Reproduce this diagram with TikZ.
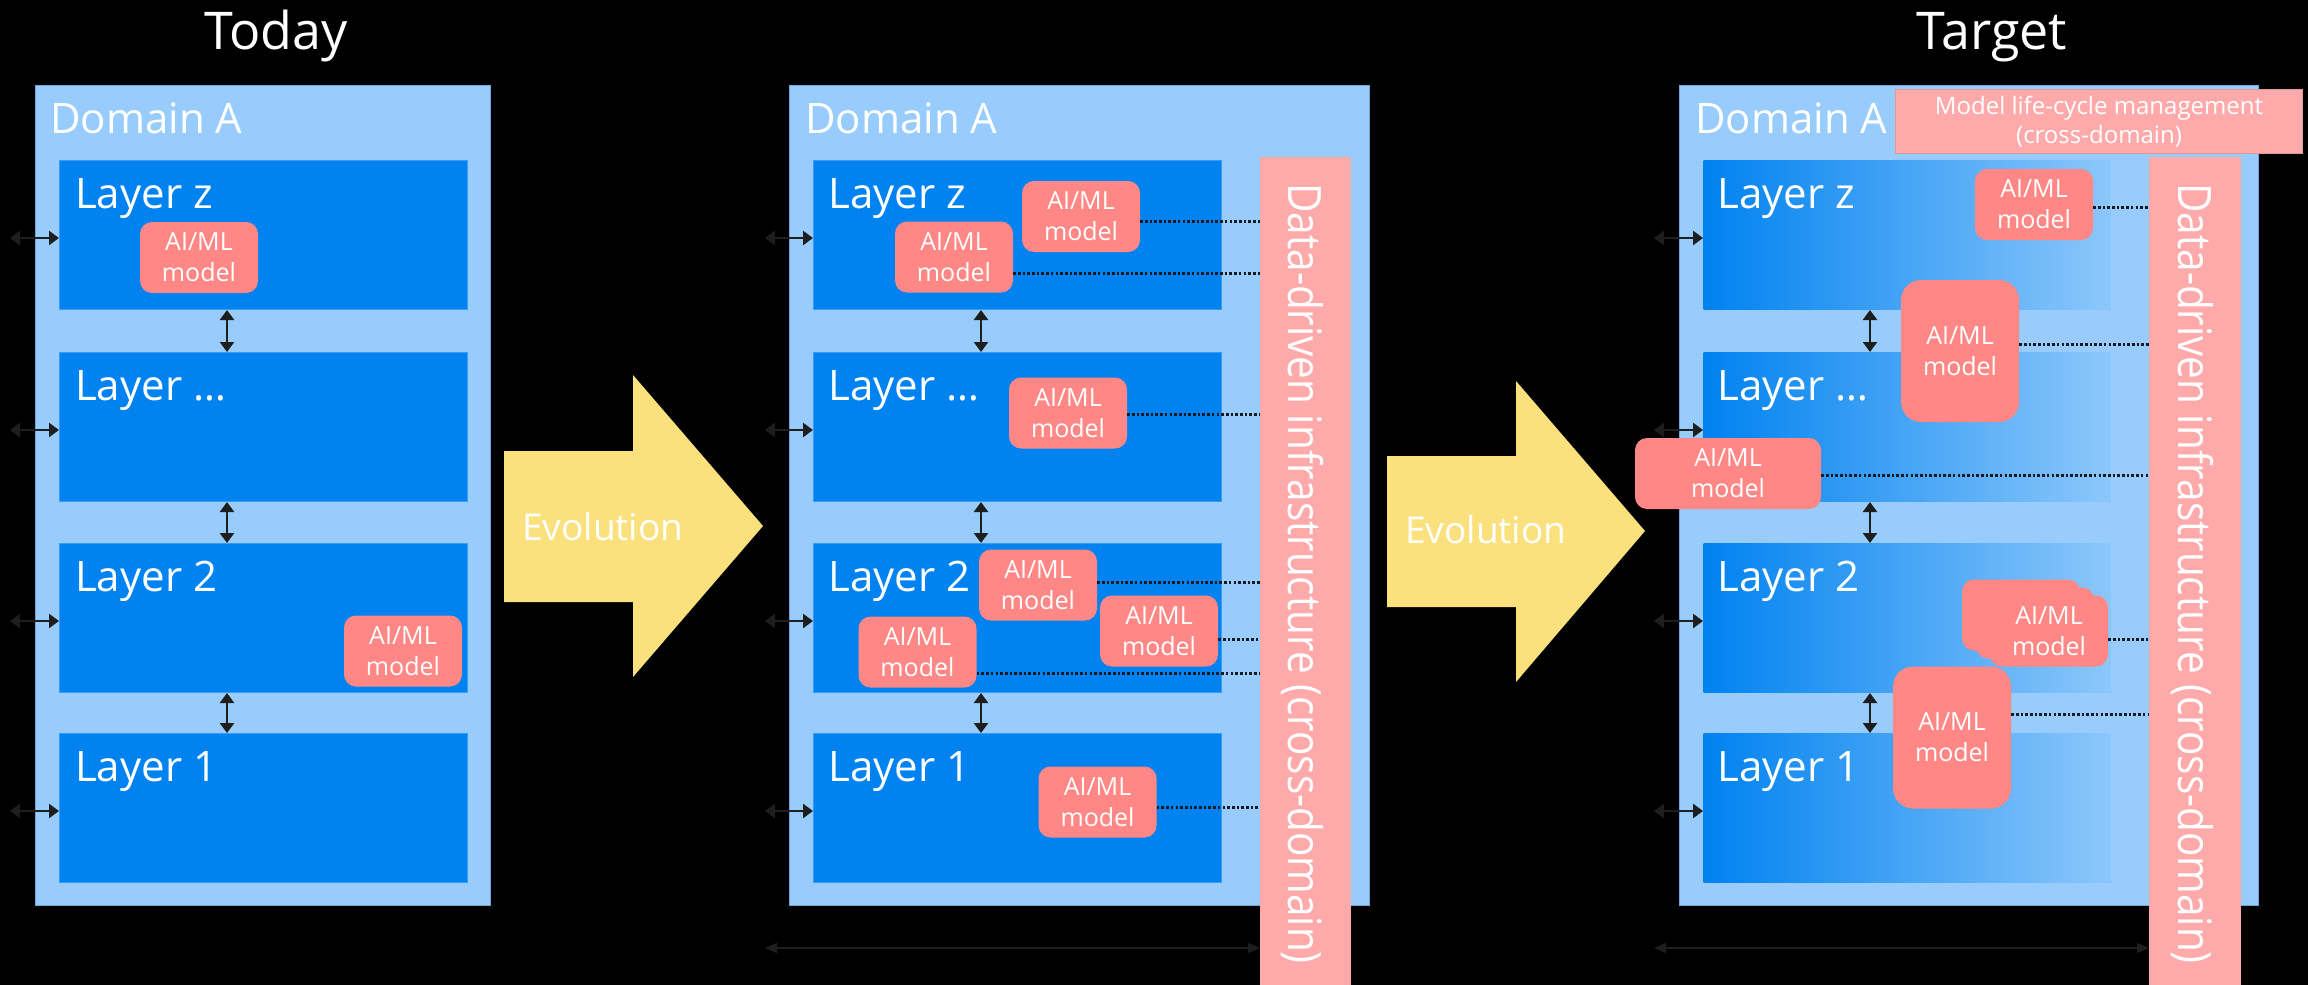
\documentclass[tikz,border=0pt]{standalone}
\usepackage{fontspec}
\usepackage{graphicx}
\setmainfont{Open Sans}
\usetikzlibrary{arrows.meta,calc}

\definecolor{domainblue}{HTML}{97CCFC}
\definecolor{domainedge}{HTML}{6FA6DA}
\definecolor{layerblue}{HTML}{0082F0}
\definecolor{layeredge}{HTML}{3A9CF2}
\definecolor{layerfade}{HTML}{8CC7FA}
\definecolor{modelred}{HTML}{FF8886}
\definecolor{infrapink}{HTML}{FFAAAA}
\definecolor{infraedge}{HTML}{E39797}
\definecolor{evoyellow}{HTML}{FAE17D}
\definecolor{arrowdark}{HTML}{1E1E1E}
\definecolor{dotdark}{HTML}{141A22}

\tikzset{
  title/.style={anchor=base, text=white, inner sep=0pt, font=\fontsize{52}{60}\selectfont},
  domainbox/.style={fill=domainblue, draw=domainedge, line width=1.2pt, anchor=north west,
    minimum height=820pt, inner sep=0pt},
  domaintext/.style={anchor=base west, text=white, inner sep=0pt, font=\fontsize{42}{48}\selectfont},
  layerbox/.style={fill=layerblue, draw=layeredge, line width=1pt, anchor=north west,
    minimum width=408pt, minimum height=149pt, inner sep=0pt},
  fadedlayer/.style={layerbox, draw=none, minimum width=407pt, left color=layerblue, right color=layerfade},
  layertext/.style={anchor=base west, text=white, inner sep=0pt, font=\fontsize{42}{48}\selectfont},
  model/.style={fill=modelred, draw=none, rounded corners=12pt, minimum width=118pt,
    minimum height=71pt, inner sep=0pt, text=white, align=center,
    font=\fontsize{25}{31}\selectfont},
  bigmodel/.style={model, rounded corners=20pt, minimum height=142pt},
  widemodel/.style={model, minimum width=186pt},
  modelback/.style={fill=modelred, draw=none, rounded corners=12pt, minimum width=118pt,
    minimum height=71pt, inner sep=0pt},
  infrabar/.style={fill=infrapink, draw=none, anchor=north west, minimum height=828pt, inner sep=0pt},
  infratext/.style={rotate=-90, anchor=base west, text=white, inner sep=0pt,
    font=\fontsize{46}{50}\selectfont},
  lifecycle/.style={fill=infrapink, draw=infraedge, line width=1pt, anchor=north west,
    minimum width=407pt, minimum height=64pt, inner sep=0pt, text=white, align=center,
    font=\fontsize{24}{29}\selectfont},
  evoarrow/.style={fill=evoyellow, draw=none},
  evotext/.style={anchor=base west, text=white, inner sep=0pt, font=\fontsize{37}{42}\selectfont},
  varrow/.style={draw=arrowdark, line width=2.5pt, >={Triangle[length=10pt,width=14pt]}, <->},
  sidearrow/.style={draw=arrowdark, line width=2.5pt, >={Triangle[length=10pt,width=14pt]}, <->},
  spanarrow/.style={draw=arrowdark, line width=1.5pt, >={Triangle[length=12pt,width=10pt]}, <->},
  dotline/.style={draw=dotdark, line width=3pt, dash pattern=on 2.6pt off 2.1pt},
}

\begin{document}
\begin{tikzpicture}[x=1pt,y=-1pt]
\useasboundingbox (0,0) rectangle (2308,985);
\fill[black] (0,0) rectangle (2308,985);

% ---------- titles ----------
\node[title] (today) at (276,49) {Today};
\node[title] (target) at (1992,49) {Target};

% ---------- panel 1: today ----------
\node[domainbox, minimum width=455pt] (d1) at (35,85) {};
\node[domaintext] (d1t) at ($(d1.north west)+(15,48)$) {Domain A};
\foreach \n/\t/\lab in {z/160/Layer z, d/352/Layer …, b/543/Layer 2, a/733/Layer 1} {
  \node[layerbox] (p1\n) at (59,\t) {};
  \node[layertext] (p1\n t) at ($(p1\n.north west)+(16,48)$) {\lab};
  \draw[sidearrow] ($(p1\n.north west)+(-49,78)$) -- ($(p1\n.north west)+(0,78)$);
}
\foreach \u/\l in {z/d, d/b, b/a}
  \draw[varrow] ($(p1\u.south west)+(168,0)$) -- ($(p1\l.north west)+(168,0)$);
\node[model] (p1m1) at (199,257.5) {AI/ML\\model};
\node[model] (p1m2) at (403,651) {AI/ML\\model};

% ---------- evolution arrow 1 ----------
\fill[evoarrow] (504,451) -- (633,451) -- (633,375) -- (763,526) -- (633,677)
  -- (633,602) -- (504,602) -- cycle;
\node[evotext] (evo1) at (522,540) {Evolution};

% ---------- panel 2 ----------
\node[domainbox, minimum width=580pt] (d2) at (789,85) {};
\node[domaintext] (d2t) at ($(d2.north west)+(16,48)$) {Domain A};
\foreach \n/\t/\lab in {z/160/Layer z, d/352/Layer …, b/543/Layer 2, a/733/Layer 1} {
  \node[layerbox] (p2\n) at (813,\t) {};
  \node[layertext] (p2\n t) at ($(p2\n.north west)+(15,48)$) {\lab};
  \draw[sidearrow] ($(p2\n.north west)+(-48,78)$) -- ($(p2\n.north west)+(0,78)$);
}
\foreach \u/\l in {z/d, d/b, b/a}
  \draw[varrow] ($(p2\u.south west)+(168,0)$) -- ($(p2\l.north west)+(168,0)$);

\node[infrabar, minimum width=91pt] (bar2) at (1260,157) {};
\node[infratext] (bar2t) at ($(bar2.north west)+(28,26)$)
  {\scalebox{0.88}[1]{Data-driven infrastructure (cross-domain)}};

\node[model] (p2m1) at (1081,216.5) {AI/ML\\model};
\node[model] (p2m2) at (954,257) {AI/ML\\model};
\node[model] (p2m3) at (1068,413) {AI/ML\\model};
\node[model] (p2m4) at (1038,585) {AI/ML\\model};
\node[model] (p2m5) at (1159,631) {AI/ML\\model};
\node[model] (p2m6) at (917.5,652) {AI/ML\\model};
\node[model] (p2m7) at (1097.5,802) {AI/ML\\model};

\foreach \m/\dy in {p2m1/4.5, p2m2/16, p2m3/1, p2m4/-3, p2m5/8, p2m6/21, p2m7/5} {
  \coordinate (\m o) at ($(\m.east)+(0,\dy)$);
  \draw[dotline] (\m o) -- (\m o -| bar2.west);
}

\coordinate (span2) at (765,948);
\draw[spanarrow] (span2) -- (span2 -| bar2.west);

% ---------- evolution arrow 2 ----------
\fill[evoarrow] (1387,456) -- (1516,456) -- (1516,381) -- (1645,531) -- (1516,682)
  -- (1516,607) -- (1387,607) -- cycle;
\node[evotext] (evo2) at (1405,543) {Evolution};

% ---------- panel 3: target ----------
\node[domainbox, minimum width=579pt] (d3) at (1679,85) {};
\node[domaintext] (d3t) at ($(d3.north west)+(16,48)$) {Domain A};
\foreach \n/\t/\lab in {z/160/Layer z, d/352/Layer …, b/543/Layer 2, a/733/Layer 1} {
  \node[fadedlayer] (p3\n) at (1703,\t) {};
  \node[layertext] (p3\n t) at ($(p3\n.north west)+(14,48)$) {\lab};
  \draw[sidearrow] ($(p3\n.north west)+(-49,78)$) -- ($(p3\n.north west)+(0,78)$);
}
\foreach \u/\l in {z/d, d/b, b/a}
  \draw[varrow] ($(p3\u.south west)+(167,0)$) -- ($(p3\l.north west)+(167,0)$);

\node[infrabar, minimum width=92pt] (bar3) at (2149,157) {};
\node[infratext] (bar3t) at ($(bar3.north west)+(29,26)$)
  {\scalebox{0.88}[1]{Data-driven infrastructure (cross-domain)}};

\node[lifecycle] (lcm) at (1895,89) {Model life-cycle management\\(cross-domain)};

\node[model] (p3m1) at (2034,204.5) {AI/ML\\model};
\node[bigmodel] (p3m2) at (1960,351) {AI/ML\\model};
\node[widemodel] (p3m3) at (1728,473.5) {AI/ML\\model};
\node[modelback] (p3m4c) at (2021,615) {};
\node[modelback] (p3m4b) at (2035,623) {};
\node[model] (p3m4) at (2049,631) {AI/ML\\model};
\node[bigmodel] (p3m5) at (1952,737.5) {AI/ML\\model};

\foreach \m/\dy in {p3m1/2.5, p3m2/-7, p3m3/1.5, p3m4/8, p3m5/-23} {
  \coordinate (\m o) at ($(\m.east)+(0,\dy)$);
  \draw[dotline] (\m o) -- (\m o -| bar3.west);
}

\coordinate (span3) at (1654,948);
\draw[spanarrow] (span3) -- (span3 -| bar3.west);
\end{tikzpicture}
\end{document}
